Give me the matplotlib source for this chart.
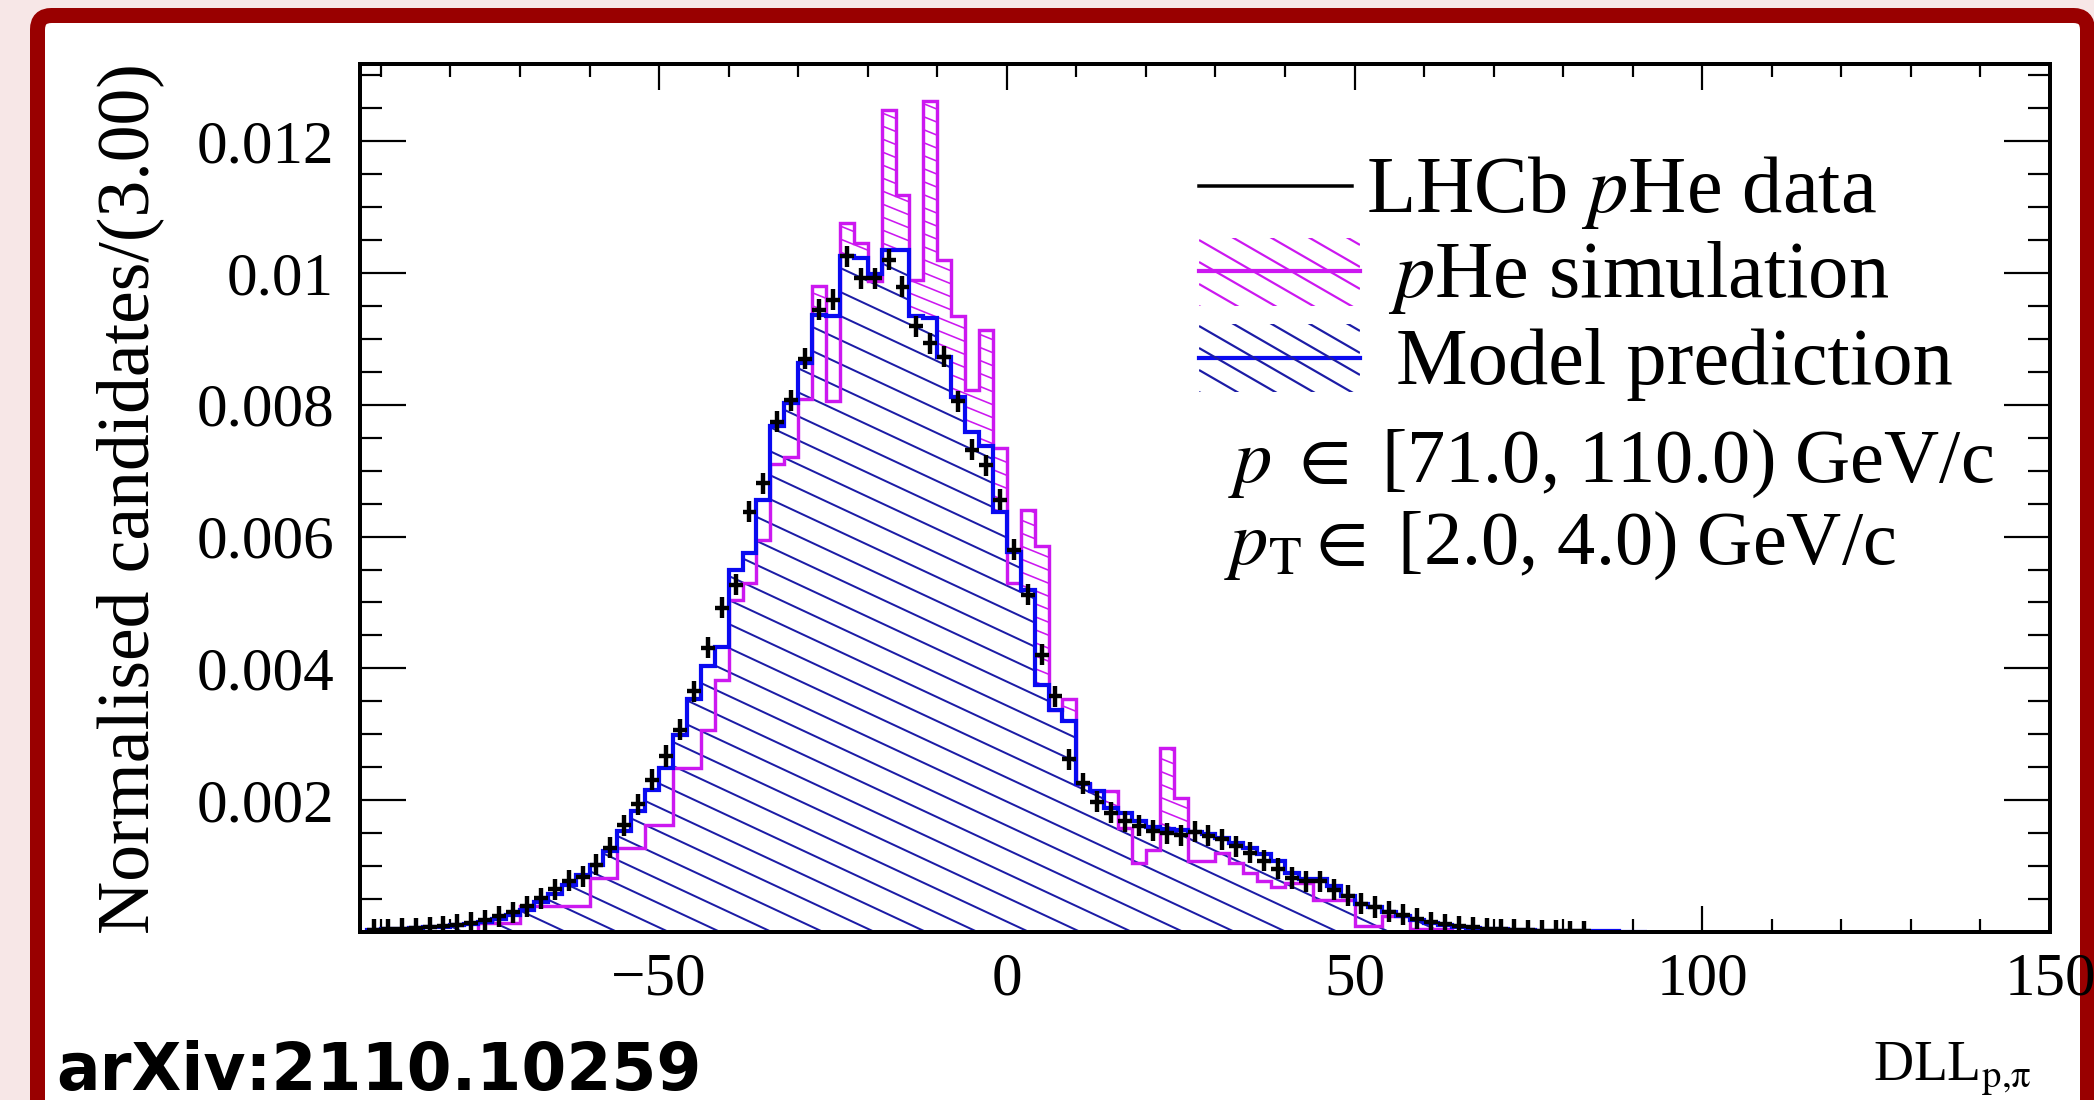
import numpy as np
import matplotlib
matplotlib.use("Agg")
import matplotlib.pyplot as plt
from matplotlib.collections import LineCollection
from matplotlib.transforms import IdentityTransform
from matplotlib.patches import Rectangle, FancyBboxPatch
from matplotlib.lines import Line2D
from matplotlib.ticker import FixedLocator, FixedFormatter, MultipleLocator

plt.rcParams["font.family"] = ["Liberation Serif", "DejaVu Serif"]
plt.rcParams["mathtext.fontset"] = "stix"

# ---------------- data (values in units of 1e-3) ----------------
bin_low = -92.0
bin_width = 2.0

data_vals = [
    0.03, 0.04, 0.05, 0.06, 0.07, 0.09, 0.11, 0.14, 0.18, 0.24,
    0.30, 0.39, 0.51, 0.65, 0.78, 0.84, 1.02, 1.28, 1.62, 1.94,
    2.31, 2.67, 3.07, 3.65, 4.31, 4.92, 5.27, 6.38, 6.81, 7.74,
    8.07, 8.70, 9.44, 9.59, 10.25, 9.92, 9.92, 10.20, 9.79, 9.19,
    8.93, 8.73, 8.05, 7.32, 7.08, 6.56,
    5.80, 5.12, 4.21, 3.58, 2.62, 2.26, 1.98, 1.81, 1.68, 1.61,
    1.54, 1.50, 1.47, 1.52, 1.46, 1.41, 1.30, 1.20, 1.08, 0.96,
    0.82, 0.77, 0.77, 0.64, 0.55, 0.43, 0.38, 0.31, 0.26, 0.20,
    0.15, 0.12, 0.09, 0.07, 0.05, 0.04, 0.03, 0.025, 0.02, 0.015,
    0.01, 0.01, 0.0, 0.0, 0.0, 0.0,
]

model_vals = [
    0.03, 0.04, 0.05, 0.06, 0.07, 0.08, 0.10, 0.12, 0.15, 0.20,
    0.26, 0.34, 0.45, 0.58, 0.72, 0.87, 1.02, 1.23, 1.53, 1.83,
    2.16, 2.49, 2.99, 3.53, 4.03, 4.33, 5.50, 5.75, 6.56, 7.67,
    8.02, 8.63, 9.36, 9.34, 10.25, 10.22, 9.99, 10.35, 10.35, 9.34,
    9.31, 8.73, 8.12, 7.59, 7.37, 6.38,
    5.77, 5.19, 3.75, 3.37, 3.20, 2.24, 2.14, 1.88, 1.80, 1.68,
    1.60, 1.57, 1.55, 1.52, 1.48, 1.43, 1.35, 1.28, 1.18, 1.07,
    0.90, 0.80, 0.80, 0.70, 0.55, 0.42, 0.38, 0.30, 0.24, 0.18,
    0.13, 0.10, 0.08, 0.06, 0.05, 0.04, 0.03, 0.03, 0.02, 0.02,
    0.015, 0.01, 0.01, 0.01, 0.005, 0.0,
]

sim_vals = [
    0.0, 0.0, 0.0, 0.0, 0.0, 0.0, 0.0, 0.0, 0.14, 0.14,
    0.14, 0.39, 0.39, 0.39, 0.39, 0.39, 0.82, 0.82, 1.27, 1.27,
    1.62, 1.62, 2.49, 2.49, 3.07, 3.83, 5.04, 5.29, 5.95, 7.10,
    7.20, 8.08, 9.80, 8.06, 10.75, 10.46, 9.87, 12.47, 11.18, 9.89,
    12.61, 10.20, 9.34, 8.23, 9.14, 7.35,
    5.30, 6.41, 5.85, 3.37, 3.53, 2.24, 2.14, 2.14, 1.58, 1.05,
    1.25, 2.79, 2.03, 1.07, 1.07, 1.20, 1.05, 0.90, 0.77, 0.69,
    0.74, 0.74, 0.49, 0.49, 0.49, 0.09, 0.09, 0.24, 0.24, 0.05,
    0.05, 0.05, 0.0, 0.0, 0.0, 0.0, 0.0, 0.0, 0.0, 0.0,
    0.0, 0.0, 0.0, 0.0, 0.0, 0.0,
]

data_err = 0.00016
value_scale = 1e-3

x_ticks = [-50, 0, 50, 100, 150]
x_tick_labels = ["\u221250", "0", "50", "100", "150"]
y_ticks = [0.002, 0.004, 0.006, 0.008, 0.010, 0.012]
y_tick_labels = ["0.002", "0.004", "0.006", "0.008", "0.01", "0.012"]

legend_labels = ["LHCb $p$He data", "$p$He simulation", "Model prediction"]
info_lines = ["$p\\;\\in$ [71.0, 110.0) GeV/c", "$p_{\\mathrm{T}}\\in$ [2.0, 4.0) GeV/c"]
x_label = "DLL$_{\\mathrm{p{,}\\pi}}$"
y_label = "Normalised candidates/(3.00)"
tag = "arXiv:2110.10259"

# ---------------- styling ----------------
PINK = "#cc18f0"
BLUE = "#0a0af0"
BLUE_HATCH = "#1c1ca6"
BG = "#f7e7e7"
FRAME = "#990000"

W, H, DPI = 2094, 1100, 100
PT = 72.0 / DPI


def fx(px):
    return px / W


def fy(py_top):
    return 1.0 - py_top / H


data = np.asarray(data_vals) * value_scale
model = np.asarray(model_vals) * value_scale
sim = np.asarray(sim_vals) * value_scale
edges = bin_low + bin_width * np.arange(len(data) + 1)
centers = 0.5 * (edges[:-1] + edges[1:])

fig = plt.figure(figsize=(W / DPI, H / DPI), dpi=DPI, facecolor=BG)

frame = FancyBboxPatch((37.5, -300), 2087.5 - 37.5, (H - 15.5) + 300,
                       boxstyle="round,pad=0,rounding_size=14",
                       transform=IdentityTransform(), facecolor="white",
                       edgecolor=FRAME, linewidth=15 * PT, zorder=-5)
fig.add_artist(frame)

AX_L, AX_R, AX_T, AX_B = 360, 2050, 64, 932
ax = fig.add_axes([fx(AX_L), fy(AX_B), fx(AX_R - AX_L), (AX_B - AX_T) / H])
ax.set_facecolor("white")
ax.set_xlim(-93, 150)
ax.set_ylim(0, 0.01317)


def hatch_lines(x0, y0, x1, y1, angle_deg, vspace, color, lw, zorder, phase=0.0):
    t = np.tan(np.radians(angle_deg))
    drop = t * (x1 - x0)
    bs = np.arange(y0 + phase, y1 + drop + vspace, vspace)
    segs = [[(x0, b), (x1, b - drop)] for b in bs]
    return LineCollection(segs, colors=color, linewidths=lw,
                          transform=IdentityTransform(), zorder=zorder)


bb = ax.get_window_extent()

# simulation: hatched area
sim_fill = ax.stairs(sim, edges, baseline=0, fill=True, facecolor="none",
                     edgecolor="none", zorder=1)
lc_sim = hatch_lines(bb.x0, bb.y0, bb.x1, bb.y1, 22, 13, PINK, 1.6 * PT, 1.5, phase=3)
ax.add_collection(lc_sim, autolim=False)
lc_sim.set_clip_path(sim_fill)

# model: white fill + hatch
model_fill = ax.stairs(model, edges, baseline=0, fill=True, facecolor="white",
                       edgecolor="none", zorder=2)
lc_mod = hatch_lines(bb.x0, bb.y0, bb.x1, bb.y1, 25, 24, BLUE_HATCH, 2.0 * PT, 2.5)
ax.add_collection(lc_mod, autolim=False)
lc_mod.set_clip_path(model_fill)

ax.stairs(sim, edges, baseline=0, color=PINK, linewidth=3.4 * PT, zorder=3)
ax.stairs(model, edges, baseline=0, color=BLUE, linewidth=4.2 * PT, zorder=4)

mask = data > 0
ax.errorbar(centers[mask], data[mask], xerr=bin_width / 2, yerr=data_err,
            fmt="none", ecolor="black", elinewidth=4.4 * PT, capsize=0, zorder=5)

# ticks
ax.xaxis.set_major_locator(FixedLocator(x_ticks))
ax.xaxis.set_major_formatter(FixedFormatter(x_tick_labels))
ax.xaxis.set_minor_locator(MultipleLocator(10))
ax.yaxis.set_major_locator(FixedLocator(y_ticks))
ax.yaxis.set_major_formatter(FixedFormatter(y_tick_labels))
ax.yaxis.set_minor_locator(MultipleLocator(0.0005))
ax.tick_params(axis="both", which="both", direction="in", top=True, right=True,
               width=2.2 * PT, colors="black")
ax.tick_params(axis="x", which="major", length=26 * PT, pad=20 * PT, labelsize=44)
ax.tick_params(axis="x", which="minor", length=13 * PT)
ax.tick_params(axis="y", which="major", length=46 * PT, pad=26 * PT, labelsize=44)
ax.tick_params(axis="y", which="minor", length=22 * PT)
for s in ax.spines.values():
    s.set_linewidth(4 * PT)
    s.set_zorder(6)

# labels
fig.text(fx(130), fy(63), y_label, rotation=90, ha="center", va="top", fontsize=53)
fig.text(fx(2032), fy(1080), x_label, ha="right", va="baseline", fontsize=40)
fig.text(fx(56), fy(1090), tag, family=["DejaVu Sans"], weight="bold",
         fontsize=46.5, ha="left", va="baseline")

# legend
fig.add_artist(Line2D([fx(1199), fx(1352)], [fy(186), fy(186)],
                      transform=fig.transFigure, color="black", lw=3.5 * PT))
fig.text(fx(1366), fy(212), legend_labels[0], ha="left", va="baseline", fontsize=58)

for (ytop, ybot, ymid, col, hcol, ang, vsp, lab, base, tx) in [
        (238, 306, 271, PINK, PINK, 30, 22, legend_labels[1], 297, 1388),
        (324, 392, 358, BLUE, BLUE_HATCH, 30, 22, legend_labels[2], 384, 1396)]:
    box = Rectangle((fx(1199), fy(ybot)), fx(1360 - 1199), (ybot - ytop) / H,
                    transform=fig.transFigure, facecolor="none", edgecolor="none")
    fig.add_artist(box)
    lc = hatch_lines(1199, H - ybot, 1360, H - ytop, ang, vsp, hcol, 2.2 * PT, 3)
    fig.add_artist(lc)
    lc.set_clip_path(box)
    fig.add_artist(Line2D([fx(1199), fx(1360)], [fy(ymid), fy(ymid)],
                          transform=fig.transFigure, color=col, lw=4.2 * PT))
    fig.text(fx(tx), fy(base), lab, ha="left", va="baseline", fontsize=58)

fig.text(fx(1228), fy(482), info_lines[0], ha="left", va="baseline", fontsize=55)
fig.text(fx(1224), fy(564), info_lines[1], ha="left", va="baseline", fontsize=55)

fig.savefig("out.png", dpi=DPI, facecolor=BG)
